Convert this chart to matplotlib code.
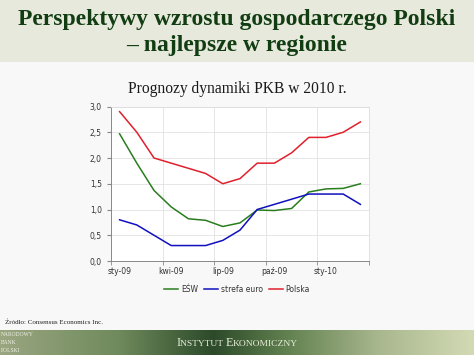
import matplotlib
matplotlib.use("Agg")
import matplotlib.pyplot as plt
import numpy as np
from matplotlib.colors import LinearSegmentedColormap

months = ["sty-09", "lut-09", "mar-09", "kwi-09", "maj-09", "cze-09", "lip-09", "sie-09",
          "wrz-09", "paź-09", "lis-09", "gru-09", "sty-10", "lut-10", "mar-10"]
tick_labels = ["sty-09", "kwi-09", "lip-09", "paź-09", "sty-10"]
esw = [2.47, 1.90, 1.37, 1.05, 0.82, 0.79, 0.67, 0.74, 0.99, 0.98, 1.02, 1.34, 1.40, 1.41, 1.50]
euro = [0.80, 0.70, 0.50, 0.30, 0.30, 0.30, 0.40, 0.60, 1.00, 1.10, 1.20, 1.30, 1.30, 1.30, 1.10]
polska = [2.90, 2.50, 2.00, 1.90, 1.80, 1.70, 1.50, 1.60, 1.90, 1.90, 2.10, 2.40, 2.40, 2.50, 2.70]
y_ticks = [0.0, 0.5, 1.0, 1.5, 2.0, 2.5, 3.0]

W, H = 474, 355
fig = plt.figure(figsize=(W / 100, H / 100), dpi=100)
fig.patch.set_facecolor("#f8f8f8")

# title band
band = fig.add_axes([0, 1 - 62 / H, 1, 62 / H])
band.set_axis_off()
band.add_patch(plt.Rectangle((0, 0), 1, 1, color="#e6e9dc", transform=band.transAxes))

title_color = "#123d12"
fig.text(0.5, 1 - 20 / H, "Perspektywy wzrostu gospodarczego Polski", ha="center", va="center",
         fontsize=17, fontweight="bold", family="Liberation Serif", color=title_color)
fig.text(0.5, 1 - 46 / H, "– najlepsze w regionie", ha="center", va="center",
         fontsize=17, fontweight="bold", family="Liberation Serif", color=title_color)

fig.text(0.5, 1 - 89 / H, "Prognozy dynamiki PKB w 2010 r.", ha="center", va="center",
         fontsize=11.2, family="Liberation Serif", color="#1a1a1a")

# chart
x0, x1 = 111, 369
ytop, ybot = 106.5, 261
ax = fig.add_axes([x0 / W, 1 - ybot / H, (x1 - x0) / W, (ybot - ytop) / H])
ax.set_facecolor("white")
x = np.arange(len(months))
ax.plot(x, esw, color="#2a7d1f", lw=1.1, label="EŚW")
ax.plot(x, euro, color="#1010c0", lw=1.1, label="strefa euro")
ax.plot(x, polska, color="#e0202c", lw=1.1, label="Polska")
ax.set_xlim(-0.5, len(months) - 0.5)
ax.set_ylim(0, 3)
ax.set_yticks(y_ticks)
ax.set_yticklabels([f"{v:.1f}".replace(".", ",") for v in y_ticks])
tick_pos = [months.index(t) for t in tick_labels]
ax.set_xticks(tick_pos)
ax.set_xticklabels(tick_labels)
ax.set_xticks([p - 0.5 for p in tick_pos] + [14.5], minor=True)
ax.tick_params(axis="x", which="major", length=0, labelsize=5.5, pad=4, colors="#333333")
ax.tick_params(axis="x", which="minor", length=3, color="#888888")
ax.tick_params(axis="y", labelsize=5.5, length=3, color="#888888", colors="#333333")
for t in ax.get_yticklabels():
    t.set_color("#333333")
ax.grid(False)
for yv in y_ticks[1:]:
    ax.axhline(yv, color="#e2e2e2", lw=0.6, zorder=0)
for p in [p - 0.5 for p in tick_pos][1:]:
    ax.axvline(p, color="#e2e2e2", lw=0.6, zorder=0)
for s in ["top", "right"]:
    ax.spines[s].set_color("#dddddd")
    ax.spines[s].set_linewidth(0.6)
for s in ["left", "bottom"]:
    ax.spines[s].set_color("#888888")
    ax.spines[s].set_linewidth(0.7)

leg = fig.legend(loc="center", bbox_to_anchor=(0.5, 1 - 289 / H), ncol=3, frameon=False,
                 fontsize=5.5, handlelength=1.8, handletextpad=0.4, columnspacing=0.8,
                 labelcolor="#333333")

fig.text(5 / W, 1 - 322 / H, "Źródło: Consensus Economics Inc.", ha="left", va="center",
         fontsize=5, family="Liberation Serif", color="#222222")

# footer band with gradient
foot = fig.add_axes([0, 0, 1, 25 / H])
foot.set_axis_off()
cmap = LinearSegmentedColormap.from_list("foot", [
    (0.0, "#9aa680"), (0.25, "#6f8a5c"), (0.45, "#2c4a2a"), (0.6, "#5f7f4e"),
    (0.8, "#a9b78e"), (1.0, "#d2dab4")])
grad = np.linspace(0, 1, 256)[None, :]
foot.imshow(grad, aspect="auto", cmap=cmap, extent=[0, 1, 0, 1])
foot.set_xlim(0, 1)
foot.set_ylim(0, 1)

# small caps footer text
pieces = [("I", 8.8), ("NSTYTUT ", 6.8), ("E", 8.8), ("KONOMICZNY", 6.8)]
fig.canvas.draw()
renderer = fig.canvas.get_renderer()
widths = []
for s, fs in pieces:
    t = fig.text(0, 0, s, fontsize=fs, family="Liberation Serif")
    widths.append(t.get_window_extent(renderer).width)
    t.remove()
total = sum(widths)
xpos = W / 2 - total / 2
for (s, fs), w in zip(pieces, widths):
    fig.text(xpos / W, 9 / H, s, ha="left", va="baseline", fontsize=fs,
             family="Liberation Serif", color="#e8ecd8")
    xpos += w

for i, word in enumerate(["NARODOWY", "BANK", "POLSKI"]):
    fig.text(1 / W, (20 - i * 7.5) / H, word, ha="left", va="center", fontsize=4.0,
             family="Liberation Serif", color="#f2f2e6")

fig.savefig("out.png", dpi=100, facecolor=fig.get_facecolor())
